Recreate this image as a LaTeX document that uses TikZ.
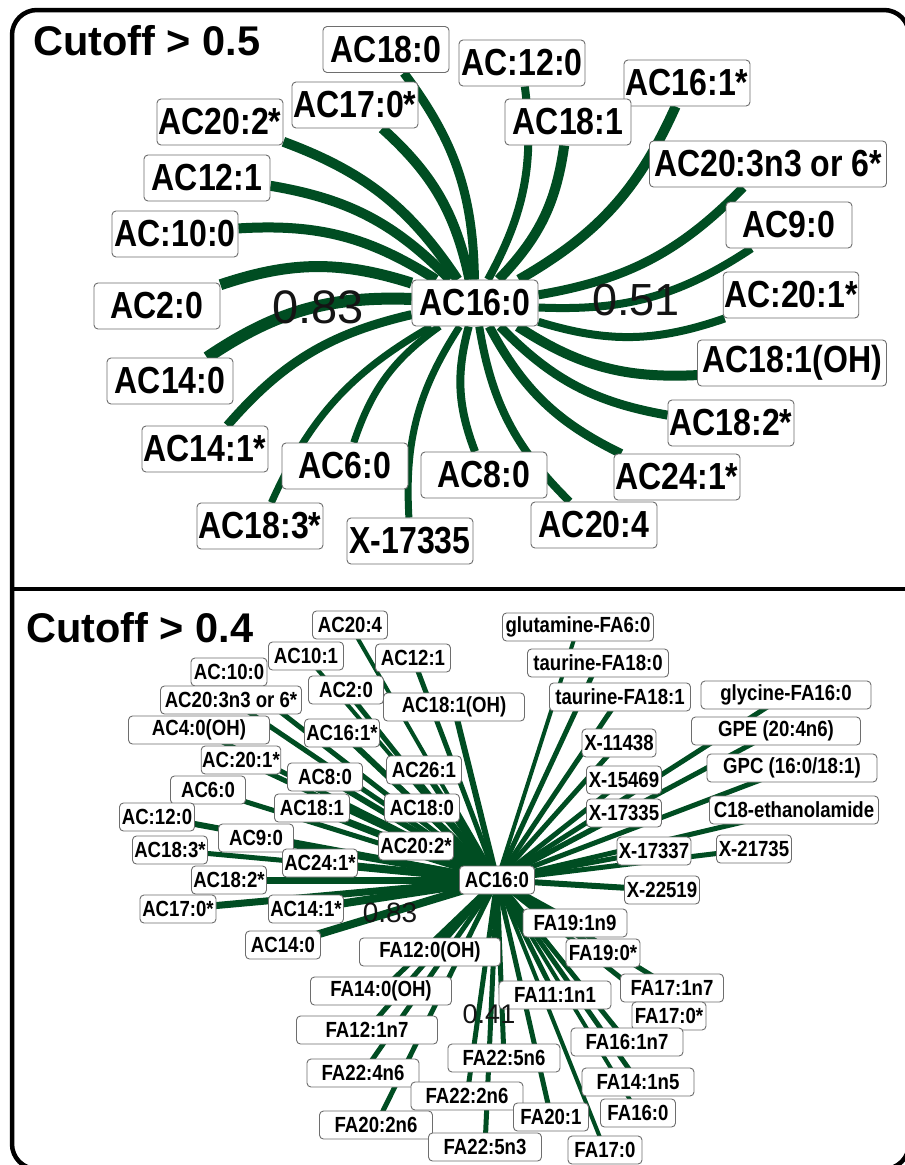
\documentclass[tikz,border=0pt]{standalone}
\usepackage{fontspec}
\setmainfont{Liberation Sans}
\newfontfamily\condfont[FakeStretch=0.85]{Liberation Sans}
\usetikzlibrary{backgrounds}
\definecolor{egreen}{RGB}{0,77,34}
\definecolor{boxgray}{RGB}{110,110,110}
\pgfdeclarelayer{bottom}
\pgfsetlayers{bottom,background,main}
\tikzset{
  lbl/.style={draw=boxgray, line width=0.9pt, fill=white, rounded corners=4pt, inner sep=1pt, text=black},
  bigl/.style={lbl, minimum width=126pt, minimum height=46pt, font=\condfont\bfseries\fontsize{37.7}{40}\selectfont},
  smalll/.style={lbl, minimum height=28pt, font=\condfont\bfseries\fontsize{21.9}{24}\selectfont},
  lk/.style={draw=egreen, line width=#1},
  title/.style={font=\bfseries\fontsize{41.5}{44}\selectfont, anchor=base west, inner sep=0pt},
  corr/.style={font=\fontsize{#1}{#1}\selectfont, text=black!92, inner sep=0pt},
  frame/.style={draw=black, line width=4.5pt}
}
\begin{document}
\begin{tikzpicture}[x=1pt,y=1pt]
\useasboundingbox (0,0) rectangle (905,-1165);
\begin{pgfonlayer}{bottom}
\fill[white] (0,0) rectangle (905,-1165);
\end{pgfonlayer}
% frame
\draw[frame, rounded corners=25pt] (12,-10) rectangle (909,-1169);
\draw[frame] (12,-589) -- (909,-589);
% titles
\node[title] (title1) at (33,-55) {Cutoff > 0.5};
\node[title] (title2) at (26,-642) {Cutoff > 0.4};

% ---------- top panel nodes ----------
\node[bigl] (t0) at (475,-303) {AC16:0};
\node[bigl] (ta) at (386,-49.5) {AC18:0};
\node[bigl] (tb) at (355,-105) {AC17:0*};
\node[bigl] (tc) at (220,-122) {AC20:2*};
\node[bigl] (td) at (207,-178) {AC12:1};
\node[bigl] (te) at (175,-234) {AC:10:0};
\node[bigl] (tf) at (157,-306) {AC2:0};
\node[bigl] (tg) at (170,-381) {AC14:0};
\node[bigl] (th) at (205,-449) {AC14:1*};
\node[bigl] (ti) at (345,-466) {AC6:0};
\node[bigl] (tj) at (260,-526) {AC18:3*};
\node[bigl] (tk) at (410,-541) {X-17335};
\node[bigl] (tl) at (484,-475) {AC8:0};
\node[bigl] (tm) at (594,-525) {AC20:4};
\node[bigl] (tn) at (677,-477) {AC24:1*};
\node[bigl] (to) at (731,-423) {AC18:2*};
\node[bigl, minimum width=189pt] (tp) at (792,-363) {AC18:1(OH)};
\node[bigl] (tq) at (791,-295) {AC:20:1*};
\node[bigl] (tr) at (789,-225) {AC9:0};
\node[bigl, minimum width=237pt] (ts) at (768,-164) {AC20:3n3 or 6*};
\node[bigl] (tt) at (687,-83) {AC16:1*};
\node[bigl] (tu) at (568,-122) {AC18:1};
\node[bigl] (tv) at (522,-63) {AC:12:0};

\begin{pgfonlayer}{background}
\draw[lk=9]  (ta) to[bend left=18] (t0);
\draw[lk=10] (tb) to[bend left=18] (t0);
\draw[lk=10] (tc) to[bend left=18] (t0);
\draw[lk=10] (td) to[bend left=18] (t0);
\draw[lk=10] (te) to[bend left=18] (t0);
\draw[lk=11] (tf) to[bend left=18] (t0);
\draw[lk=12] (tg) to[bend left=18] (t0);
\draw[lk=9]  (th) to[bend left=18] (t0);
\draw[lk=7]  (ti) to[bend left=18] (t0);
\draw[lk=7]  (tj) to[bend left=18] (t0);
\draw[lk=7]  (tk) to[bend left=18] (t0);
\draw[lk=8]  (tl) to[bend left=18] (t0);
\draw[lk=8]  (tm) to[bend left=18] (t0);
\draw[lk=9]  (tn) to[bend left=18] (t0);
\draw[lk=9]  (to) to[bend left=18] (t0);
\draw[lk=10] (tp) to[bend left=18] (t0);
\draw[lk=8]  (tq) to[bend left=18] (t0);
\draw[lk=8]  (tr) to[bend left=18] (t0);
\draw[lk=9]  (ts) to[bend left=18] (t0);
\draw[lk=10] (tt) to[bend left=18] (t0);
\draw[lk=10] (tu) to[bend left=18] (t0);
\draw[lk=8]  (tv) to[bend left=18] (t0);
\end{pgfonlayer}

\node[corr=47] (n083a) at (318,-307.5) {0.83};
\node[corr=45] (n051) at (636,-300.5) {0.51};

% ---------- bottom panel nodes ----------
\node[smalll, minimum width=75pt] (b0) at (497,-880) {AC16:0};
\node[smalll, minimum width=75pt] (b1) at (350,-625) {AC20:4};
\node[smalll, minimum width=75pt] (b2) at (306,-656) {AC10:1};
\node[smalll, minimum width=75pt] (b3) at (413,-658) {AC12:1};
\node[smalll, minimum width=76pt] (b4) at (229,-672) {AC:10:0};
\node[smalll, minimum width=75pt] (b5) at (346,-690) {AC2:0};
\node[smalll, minimum width=141pt] (b6) at (454,-707) {AC18:1(OH)};
\node[smalll, minimum width=141pt] (b7) at (231,-700) {AC20:3n3 or 6*};
\node[smalll, minimum width=141pt] (b8) at (199,-730) {AC4:0(OH)};
\node[smalll, minimum width=75pt] (b9) at (342,-733) {AC16:1*};
\node[smalll, minimum width=76pt] (b10) at (241,-760) {AC:20:1*};
\node[smalll, minimum width=75pt] (b11) at (325,-777) {AC8:0};
\node[smalll, minimum width=75pt] (b12) at (424,-770) {AC26:1};
\node[smalll, minimum width=75pt] (b13) at (208,-790) {AC6:0};
\node[smalll, minimum width=75pt] (b14) at (312,-808) {AC18:1};
\node[smalll, minimum width=75pt] (b15) at (422,-808) {AC18:0};
\node[smalll, minimum width=75pt] (b16) at (157,-817) {AC:12:0};
\node[smalll, minimum width=75pt] (b17) at (256,-838) {AC9:0};
\node[smalll, minimum width=75pt] (b18) at (416,-846) {AC20:2*};
\node[smalll, minimum width=75pt] (b19) at (170,-850) {AC18:3*};
\node[smalll, minimum width=75pt] (b20) at (320,-863) {AC24:1*};
\node[smalll, minimum width=75pt] (b21) at (229,-880) {AC18:2*};
\node[smalll, minimum width=76pt] (b22) at (178,-909) {AC17:0*};
\node[smalll, minimum width=75pt] (b23) at (306,-909) {AC14:1*};
\node[smalll, minimum width=75pt] (b24) at (283,-945) {AC14:0};
\node[smalll, minimum width=141pt] (b25) at (430,-952) {FA12:0(OH)};
\node[smalll, minimum width=104pt] (b26) at (575,-923) {FA19:1n9};
\node[smalll, minimum width=74pt] (b27) at (603,-953) {FA19:0*};
\node[smalll, minimum width=141pt] (b28) at (381,-991) {FA14:0(OH)};
\node[smalll, minimum width=112pt] (b29) at (555,-995) {FA11:1n1};
\node[smalll, minimum width=103pt] (b30) at (672,-988) {FA17:1n7};
\node[smalll, minimum width=74pt] (b31) at (669,-1016) {FA17:0*};
\node[smalll, minimum width=141pt] (b32) at (367,-1030) {FA12:1n7};
\node[smalll, minimum width=112pt] (b33) at (627,-1042) {FA16:1n7};
\node[smalll, minimum width=112pt] (b34) at (504,-1058) {FA22:5n6};
\node[smalll, minimum width=112pt] (b35) at (363,-1073) {FA22:4n6};
\node[smalll, minimum width=112pt] (b36) at (638,-1082) {FA14:1n5};
\node[smalll, minimum width=112pt] (b37) at (467,-1096) {FA22:2n6};
\node[smalll, minimum width=75pt] (b38) at (638,-1113) {FA16:0};
\node[smalll, minimum width=75pt] (b39) at (551,-1117) {FA20:1};
\node[smalll, minimum width=113pt] (b40) at (376,-1125) {FA20:2n6};
\node[smalll, minimum width=113pt] (b41) at (485,-1147) {FA22:5n3};
\node[smalll, minimum width=74pt] (b42) at (605,-1150) {FA17:0};
\node[smalll, minimum width=151pt] (b43) at (578,-627) {glutamine-FA6:0};
\node[smalll, minimum width=141pt] (b44) at (598,-663) {taurine-FA18:0};
\node[smalll, minimum width=141pt] (b45) at (620,-697) {taurine-FA18:1};
\node[smalll, minimum width=170pt] (b46) at (786,-695) {glycine-FA16:0};
\node[smalll, minimum width=169pt] (b47) at (776,-731) {GPE (20:4n6)};
\node[smalll, minimum width=74pt] (b48) at (619,-743) {X-11438};
\node[smalll, minimum width=170pt] (b49) at (792,-768) {GPC (16:0/18:1)};
\node[smalll, minimum width=75pt] (b50) at (624,-780) {X-15469};
\node[smalll, minimum width=75pt] (b51) at (624,-813) {X-17335};
\node[smalll, minimum width=169pt] (b52) at (794,-810) {C18-ethanolamide};
\node[smalll, minimum width=74pt] (b53) at (654,-851) {X-17337};
\node[smalll, minimum width=75pt] (b54) at (754,-849) {X-21735};
\node[smalll, minimum width=75pt] (b55) at (662,-890) {X-22519};

\begin{pgfonlayer}{background}
\foreach \n/\w in {b1/4,b2/4,b3/5,b4/5,b5/5,b6/6,b7/5,b8/5,b9/6,b10/5,b11/6,b12/6,b13/5,b14/7,b15/7,b16/6,b17/7,b18/8,b19/5,b20/8,b21/7,b22/7,b23/8,b24/8,
  b25/5,b26/6,b27/5,b28/5,b29/5,b30/5,b31/5,b32/5,b33/5,b34/5,b35/5,b36/5,b37/5,b38/4,b39/5,b40/5,b41/5,b42/4,
  b43/4,b44/5,b45/5,b46/5,b47/5,b48/5,b49/5,b50/5,b51/5,b52/5,b53/5,b54/5,b55/6}
  {\draw[lk=\w] (b0.center) -- (\n.center);}
\end{pgfonlayer}

\node[corr=28] (n083b) at (390,-913) {0.83};
\node[corr=27] (n041) at (489,-1014) {0.41};
\end{tikzpicture}
\end{document}
